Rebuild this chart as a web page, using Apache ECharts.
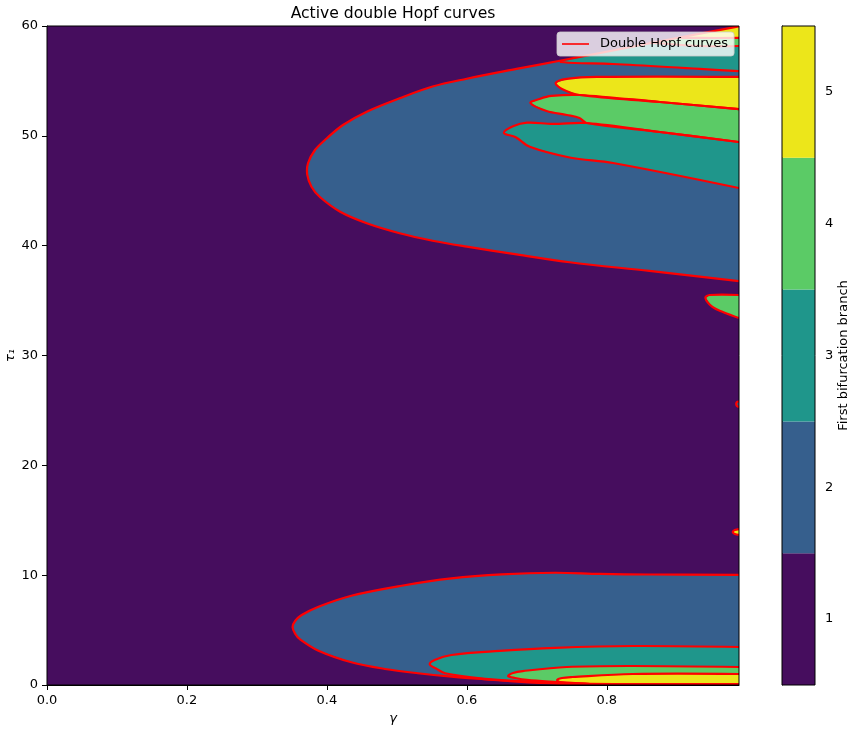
<!DOCTYPE html>
<html>
<head>
<meta charset="utf-8">
<title>Active double Hopf curves</title>
<script src="https://cdn.jsdelivr.net/npm/echarts@6/dist/echarts.min.js"></script>
<style>
html, body { margin: 0; padding: 0; background: #fff; }
#chart { width: 855px; height: 732px; }
</style>
</head>
<body>
<div id="chart"></div>
<script>
// branch numbers and their colours
const branches = [1, 2, 3, 4, 5];
const branchColors = ["#460d5e", "#365f8d", "#1f968b", "#5bcb66", "#ece61a"];
const xTicks = [0, 0.2, 0.4, 0.6, 0.8];
const gammaMax = 0.989;
const tauMax = 60;
const curveName = "Double Hopf curves";

// contours, [gamma, tau1]
const lowBlue = [[0.989,10.02],[0.861,10.06],[0.79,10.11],[0.726,10.22],[0.65,10.08],[0.578,9.71],[0.507,9.04],[0.435,8.13],[0.388,7.13],[0.364,6.37],[0.3546,5.83],[0.351,5.27],[0.3549,4.64],[0.361,4.19],[0.388,3.12],[0.435,2.07],[0.483,1.46],[0.53,1.07],[0.578,0.76],[0.626,0.52],[0.673,0.3],[0.726,0.13],[0.79,0.05],[0.847,0]];
const lowTeal = [[0.989,3.46],[0.837,3.55],[0.726,3.38],[0.647,3.1],[0.578,2.73],[0.554,2.28],[0.547,1.88],[0.556,1.5],[0.569,1.07],[0.626,0.55],[0.661,0.4],[0.719,0.23],[0.776,0.09],[0.819,0]];
const lowGreen = [[0.989,1.64],[0.837,1.73],[0.743,1.64],[0.68,1.27],[0.666,1.09],[0.659,0.82],[0.669,0.64],[0.686,0.46],[0.729,0.27],[0.776,0.09],[0.819,0]];
const lowYellow = [[0.989,1.0],[0.837,1.0],[0.751,0.73],[0.736,0.64],[0.729,0.46],[0.733,0.27],[0.743,0.18],[0.809,0.09],[0.989,0.09]];
const highBlue = [[0.989,36.78],[0.861,37.7],[0.747,38.49],[0.671,39.21],[0.6,39.91],[0.551,40.45],[0.504,41.13],[0.457,42.04],[0.419,43.09],[0.39,44.43],[0.378,45.37],[0.372,46.44],[0.373,47.5],[0.383,48.71],[0.4,49.78],[0.423,50.99],[0.457,52.2],[0.504,53.42],[0.551,54.49],[0.6,55.2],[0.671,56.09],[0.733,56.84],[0.809,57.77],[0.904,58.95],[0.989,59.97]];
const highTeal = [[0.989,55.9],[0.933,56.09],[0.809,56.54],[0.754,56.63],[0.733,56.72]];
const highGreen = [[0.989,58.18],[0.933,58.18],[0.861,58.5]];
const highYellow = [[0.989,58.91],[0.933,58.91],[0.904,58.95]];
const upperRim = [[0.809,57.77],[0.904,58.95],[0.989,59.97]];
const wedgeYellow = [[0.989,55.36],[0.786,55.36],[0.743,55.18],[0.727,54.81],[0.736,54.27],[0.761,53.72],[0.876,53.08],[0.989,52.44]];
const wedgeGreen = [[0.989,52.44],[0.876,53.08],[0.761,53.72],[0.721,53.63],[0.704,53.36],[0.691,52.99],[0.714,52.26],[0.743,51.9],[0.761,51.63],[0.771,51.17],[0.876,50.35],[0.989,49.44]];
const wedgeTeal = [[0.989,49.44],[0.876,50.35],[0.771,51.17],[0.723,51.08],[0.686,51.2],[0.666,50.87],[0.653,50.26],[0.67,49.87],[0.69,49.0],[0.747,48.03],[0.809,47.53],[0.989,45.25]];
const midGreen = [[0.989,35.51],[0.947,35.51],[0.941,35.24],[0.951,34.42],[0.966,33.96],[0.989,33.41]];
const specBlue = [[0.989,25.8],[0.986,25.77],[0.985,25.58],[0.986,25.4],[0.989,25.31]];
const specYellow = [[0.989,14.2],[0.983,14.11],[0.98,13.93],[0.983,13.75],[0.989,13.66]];

const domain = [[0, 0], [gammaMax, 0], [gammaMax, tauMax], [0, tauMax]];
const corner = [[gammaMax, 0]];

// fill order matters, the inner tongues go on top
const regions = [
	{branch: 2, curve: lowBlue, extra: corner},
	{branch: 3, curve: lowTeal, extra: corner},
	{branch: 4, curve: lowGreen, extra: corner},
	{branch: 5, curve: lowYellow, extra: []},
	{branch: 2, curve: highBlue, extra: []},
	{branch: 3, curve: highTeal, extra: upperRim},
	{branch: 4, curve: highGreen, extra: upperRim.slice(1)},
	{branch: 5, curve: highYellow, extra: upperRim.slice(2)},
	{branch: 5, curve: wedgeYellow, extra: []},
	{branch: 3, curve: wedgeTeal, extra: []},
	{branch: 4, curve: wedgeGreen, extra: []},
	{branch: 4, curve: midGreen, extra: []},
	{branch: 2, curve: specBlue, extra: []},
	{branch: 5, curve: specYellow, extra: []},
];
// branch 1 fills everything underneath
const fills = [{branch: 1, curve: domain, extra: []}].concat(regions);

const font = "DejaVu Sans";
const labelSize = 13;
const curveColor = "#ff0000";
const axisLineStyle = {color: "#000", width: 1};

const chart = echarts.init(document.getElementById("chart"), null, {renderer: "canvas"});

const fillSeries = {
	type: "custom",
	xAxisIndex: 0,
	yAxisIndex: 0,
	z: 2,
	silent: true,
	clip: true,
	data: fills.map((r, i) => [i]),
	renderItem: (params, api) => {
		const r = fills[api.value(0)];
		return {
			type: "polygon",
			shape: {points: r.curve.concat(r.extra).map((p) => api.coord(p))},
			style: {fill: branchColors[r.branch - 1]},
		};
	},
};

// outlines stay open where a contour runs off the right edge
const curveSeries = {
	type: "custom",
	name: curveName,
	xAxisIndex: 0,
	yAxisIndex: 0,
	z: 3,
	silent: true,
	clip: true,
	itemStyle: {color: curveColor},
	data: regions.map((r, i) => [i]),
	renderItem: (params, api) => ({
		type: "polyline",
		shape: {points: regions[api.value(0)].curve.map((p) => api.coord(p)), smooth: 0.35},
		style: {fill: null, stroke: curveColor, lineWidth: 2.2},
	}),
};

const barSeries = {
	type: "custom",
	xAxisIndex: 1,
	yAxisIndex: 1,
	z: 2,
	silent: true,
	data: branches.map((b) => [b]),
	renderItem: (params, api) => {
		const b = api.value(0);
		const lo = api.coord([0, b - 0.5]);
		const hi = api.coord([1, b + 0.5]);
		return {
			type: "rect",
			shape: {x: lo[0], y: hi[1], width: hi[0] - lo[0], height: lo[1] - hi[1]},
			style: {fill: branchColors[b - 1]},
		};
	},
};

chart.setOption({
	animation: false,
	backgroundColor: "#fff",
	textStyle: {fontFamily: font},
	title: {
		text: "Active double Hopf curves",
		left: 393,
		top: 6,
		padding: 0,
		textAlign: "center",
		textStyle: {fontFamily: font, fontSize: 15.6, fontWeight: "normal", color: "#000"},
	},
	legend: {
		data: [{name: curveName, icon: "rect"}],
		left: 557,
		top: 32,
		z: 10,
		padding: [5, 6, 5, 5],
		itemWidth: 27,
		itemHeight: 1.6,
		backgroundColor: "rgba(255,255,255,0.8)",
		borderColor: "rgba(204,204,204,0.8)",
		borderWidth: 1,
		borderRadius: 3,
		selectedMode: false,
		textStyle: {fontFamily: font, fontSize: labelSize, lineHeight: 14, color: "#000", padding: [0, 0, 0, 6]},
	},
	grid: [
		{left: 47, top: 26, width: 692, height: 659, outerBoundsMode: "none", show: true, z: 5, backgroundColor: "transparent", borderColor: "#000", borderWidth: 1},
		{left: 782, top: 26, width: 33, height: 659, outerBoundsMode: "none", show: true, z: 5, backgroundColor: "transparent", borderColor: "#000", borderWidth: 1},
	],
	xAxis: [
		{
			type: "value",
			gridIndex: 0,
			min: 0,
			max: gammaMax,
			name: "γ",
			nameLocation: "middle",
			nameGap: 27,
			nameTextStyle: {fontFamily: font, fontSize: labelSize, fontStyle: "italic", color: "#000"},
			splitLine: {show: false},
			axisLine: {lineStyle: axisLineStyle},
			axisTick: {length: 5, lineStyle: axisLineStyle, customValues: xTicks},
			axisLabel: {color: "#000", fontSize: labelSize, margin: 9, customValues: xTicks, formatter: (v) => v.toFixed(1)},
		},
		{type: "value", gridIndex: 1, min: 0, max: 1, show: false},
	],
	yAxis: [
		{
			type: "value",
			gridIndex: 0,
			min: 0,
			max: tauMax,
			interval: 10,
			name: "τ₁",
			nameLocation: "middle",
			nameRotate: 90,
			nameGap: 30,
			nameMoveOverlap: false,
			nameTextStyle: {fontFamily: font, fontSize: labelSize, fontStyle: "italic", color: "#000"},
			splitLine: {show: false},
			axisLine: {show: true, lineStyle: axisLineStyle},
			axisTick: {show: true, length: 5, lineStyle: axisLineStyle},
			axisLabel: {color: "#000", fontSize: labelSize, margin: 9},
		},
		{
			type: "value",
			gridIndex: 1,
			position: "right",
			min: 0.5,
			max: 5.5,
			name: "First bifurcation branch",
			nameLocation: "middle",
			nameRotate: 90,
			nameGap: 22,
			nameTextStyle: {fontFamily: font, fontSize: labelSize, color: "#000"},
			splitLine: {show: false},
			axisLine: {show: true, lineStyle: axisLineStyle},
			axisTick: {show: true, length: 5, lineStyle: axisLineStyle, customValues: branches},
			axisLabel: {color: "#000", fontSize: labelSize, margin: 10, customValues: branches},
		},
	],
	series: [fillSeries, curveSeries, barSeries],
});
</script>
</body>
</html>
